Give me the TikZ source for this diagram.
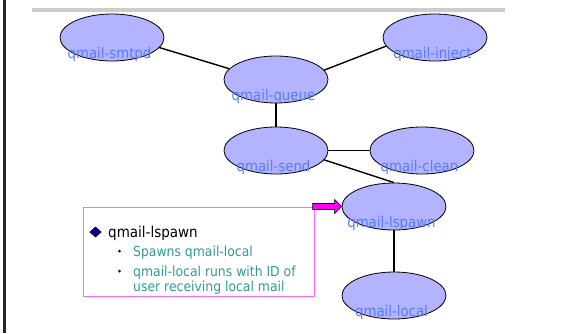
\documentclass[tikz,border=0pt]{standalone}
\usepackage{fontspec}
\setmainfont{DejaVu Sans Condensed}
\usetikzlibrary{shapes.geometric,calc}

\definecolor{procfill}{RGB}{179,179,255}
\definecolor{proctext}{RGB}{85,125,255}
\definecolor{notepink}{RGB}{255,102,255}
\definecolor{arrowmag}{RGB}{255,0,255}
\definecolor{subteal}{RGB}{51,153,153}
\definecolor{bulletnavy}{RGB}{0,0,128}

\tikzset{
  proc/.style={ellipse, draw=black, line width=0.8pt, fill=procfill,
    minimum width=104pt, minimum height=47pt, inner sep=0pt},
  proclabel/.style={anchor=base, yshift=-17pt, xshift=-2.5pt, inner sep=0pt,
    text=proctext, font=\fontsize{14.8}{16}\selectfont},
  link/.style={draw=black, line width=1.4pt},
  maintext/.style={anchor=base west, inner sep=0pt, text=black,
    font=\fontsize{15}{16}\selectfont},
  subtext/.style={anchor=base west, inner sep=0pt, text=subteal,
    font=\fontsize{13.8}{15}\selectfont},
  subdot/.style={circle, fill=bulletnavy, inner sep=0pt, minimum size=3pt},
}

\begin{document}
\begin{tikzpicture}[x=1pt, y=-1pt]
  \useasboundingbox (0,0) rectangle (562,333);

  % page frame and header strip
  \fill[black!85] (3.3,0) rectangle (6.3,333);
  \fill[gray!40] (32,8) rectangle (505,12);

  % process ellipses
  \node[proc, label={[proclabel]center:qmail-smtpd}]  (smtpd)  at (112,37.5) {};
  \node[proc, label={[proclabel]center:qmail-inject}] (inject) at (435,37.5) {};
  \node[proc, label={[proclabel]center:qmail-queue}]  (queue)  at (276,79.5) {};
  \node[proc, label={[proclabel]center:qmail-send}]   (send)   at (276,150.5) {};
  \node[proc, label={[proclabel]center:qmail-clean}]  (clean)  at (422,150.5) {};
  \node[proc, label={[proclabel]center:qmail-lspawn}] (lspawn) at (394,206.5) {};
  \node[proc, label={[proclabel]center:qmail-local}]  (local)  at (394,295.5) {};

  % connections between processes
  \draw[link] (smtpd.-12) -- (queue.167);
  \draw[link] (queue.11) -- (inject.-170);
  \draw[link] (queue.south) -- (send.north);
  \draw[link] (send) -- (clean);
  \draw[link] (send.-11) -- (lspawn.north);
  \draw[link] (lspawn) -- (local);

  % callout box describing qmail-lspawn
  \node[draw=notepink, line width=1pt, minimum width=231pt, minimum height=89pt,
        inner sep=0pt] (note) at (198.5,251.5) {};
  \node[diamond, fill=bulletnavy, inner sep=0pt, minimum width=12.5pt,
        minimum height=11pt] (mainbullet) at (95.5,232) {};
  \node[maintext] (maintitle) at (108,237) {qmail-lspawn};
  \node[subdot] (dotone) at (119.5,251) {};
  \node[subtext] (subone) at (133,256) {Spawns qmail-local};
  \node[subdot] (dottwo) at (119.5,271) {};
  \node[subtext] (subtwo) at (133,276.7) {qmail-local runs with ID of};
  \node[subtext] (subthree) at (133,291.7) {user receiving local mail};

  % block arrow from the box to qmail-lspawn
  \draw[fill=arrowmag, draw=black, line width=0.6pt, line join=miter]
    (lspawn.west) -- ++(-7,-7) -- ++(0,4) -- ++(-22,0) -- ++(0,6)
    -- ++(22,0) -- ++(0,4) -- cycle;
\end{tikzpicture}
\end{document}
